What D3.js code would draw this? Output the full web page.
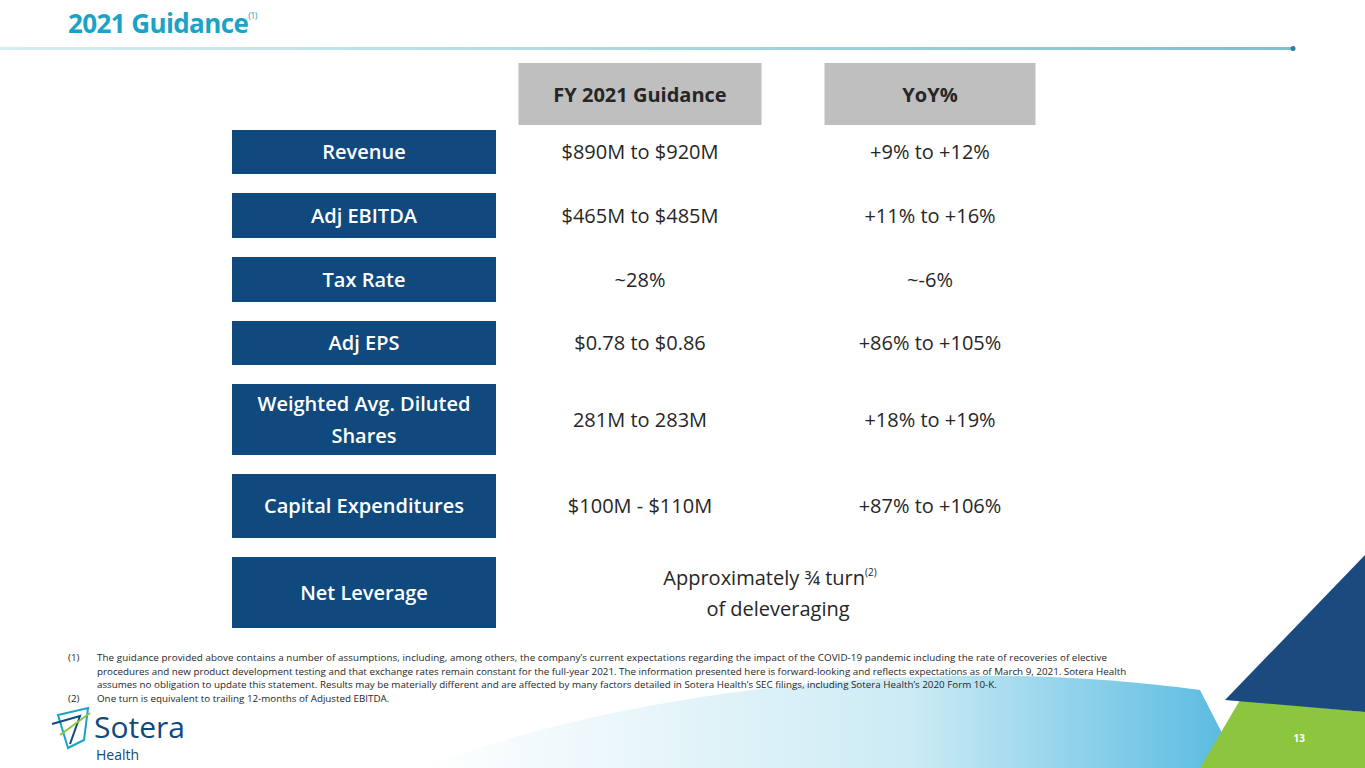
<!DOCTYPE html>
<html><head><meta charset="utf-8">
<script src="https://cdn.jsdelivr.net/npm/d3@7"></script>
<style>body{margin:0;background:#fff;font-family:"Open Sans",sans-serif}</style>
</head><body><svg id="chart" width="1365" height="768"></svg>
<script>
const metrics = ["Revenue", "Adj EBITDA", "Tax Rate", "Adj EPS", "Weighted Avg. Diluted|Shares", "Capital Expenditures", "Net Leverage"];
const guidance = ["$890M to $920M", "$465M to $485M", "~28%", "$0.78 to $0.86", "281M to 283M", "$100M - $110M", ""];
const yoy = ["+9% to +12%", "+11% to +16%", "~-6%", "+86% to +105%", "+18% to +19%", "+87% to +106%", ""];
const columns = ["FY 2021 Guidance", "YoY%"];
const footnotes = [
  "The guidance provided above contains a number of assumptions, including, among others, the company’s current expectations regarding the impact of the COVID-19 pandemic including the rate of recoveries of elective",
  "procedures and new product development testing and that exchange rates remain constant for the full-year 2021. The information presented here is forward-looking and reflects expectations as of March 9, 2021. Sotera Health",
  "assumes no obligation to update this statement. Results may be materially different and are affected by many factors detailed in Sotera Health’s SEC filings, including Sotera Health’s 2020 Form 10-K."
];

const svg = d3.select("#chart");
const defs = svg.append("defs");
const lg = defs.append("linearGradient").attr("id", "rule");
lg.append("stop").attr("offset", "0").attr("stop-color", "#d6eef3");
lg.append("stop").attr("offset", "1").attr("stop-color", "#7fbfcf");
const sw = defs.append("linearGradient").attr("id", "swoosh").attr("x1", 0).attr("x2", 1);
sw.append("stop").attr("offset", "0").attr("stop-color", "#ffffff");
sw.append("stop").attr("offset", "0.6").attr("stop-color", "#bfe6f2");
sw.append("stop").attr("offset", "1").attr("stop-color", "#2aa8d8");

// background swoosh
svg.append("path").attr("d", "M420,768 C600,700 900,650 1200,690 L1240,768 Z").attr("fill", "url(#swoosh)").attr("opacity", 0.8);
svg.append("path").attr("d", "M1200,768 L1240,700 L1365,712 L1365,768 Z").attr("fill", "#8cc63f");
svg.append("path").attr("d", "M1225,700 L1365,555 L1365,712 Z").attr("fill", "#1b4a7f");

// title
const t = svg.append("text").attr("x", 68).attr("y", 33).attr("fill", "#1ba3c6")
  .attr("font-size", 26).attr("font-weight", 700)
  .style("letter-spacing", "-0.6px").text("2021 Guidance");
t.append("tspan").attr("font-size", 9).attr("font-weight", 400).attr("dy", -14).text("(1)");
svg.append("rect").attr("x", 0).attr("y", 47).attr("width", 1292).attr("height", 3).attr("fill", "url(#rule)");
svg.append("circle").attr("cx", 1293).attr("cy", 48.5).attr("r", 2.5).attr("fill", "#2a7fa3");

// row layout
const heights = [44, 45, 45, 44, 71, 64, 71];
const gap = 19;
let acc = 130;
const rowTop = heights.map(h => { const y = acc; acc += h + gap; return y; });
const y = d3.scaleOrdinal().domain(metrics).range(rowTop);
const colX = d3.scaleOrdinal().domain(columns).range([640, 930]);
const colW = d3.scaleOrdinal().domain(columns).range([243, 211]);

// headers
const hd = svg.selectAll(".hd").data(columns).join("g");
hd.append("rect").attr("x", d => colX(d) - colW(d) / 2).attr("y", 63).attr("width", d => colW(d)).attr("height", 62).attr("fill", "#bfbfbf");
hd.append("text").attr("x", d => colX(d)).attr("y", 102).attr("text-anchor", "middle")
  .attr("font-size", 20).attr("font-weight", 700).attr("fill", "#262626").text(d => d);

// rows
const rows = svg.selectAll(".row").data(metrics).join("g");
rows.append("rect").attr("x", 232).attr("y", d => y(d)).attr("width", 264)
  .attr("height", (d, i) => heights[i]).attr("fill", "#10497e");
rows.each(function (d, i) {
  const lines = d.split("|");
  const cy = y(d) + heights[i] / 2;
  const tx = d3.select(this).append("text").attr("text-anchor", "middle").attr("fill", "#fff")
    .attr("font-size", 20).attr("font-weight", 600);
  lines.forEach((l, j) => tx.append("tspan").attr("x", 364)
    .attr("y", cy + 7 + (j - (lines.length - 1) / 2) * 32).text(l));
  const g = d3.select(this);
  g.append("text").attr("x", colX(columns[0])).attr("y", cy + 7).attr("text-anchor", "middle")
    .attr("font-size", 20).attr("fill", "#262626").text(guidance[i]);
  g.append("text").attr("x", colX(columns[1])).attr("y", cy + 7).attr("text-anchor", "middle")
    .attr("font-size", 20).attr("fill", "#262626").text(yoy[i]);
});
// net leverage spanning text
const nl = y("Net Leverage") + heights[6] / 2;
const a = svg.append("text").attr("x", 770).attr("y", nl - 8).attr("text-anchor", "middle").attr("font-size", 20).attr("fill", "#262626").text("Approximately ¾ turn");
a.append("tspan").attr("font-size", 10).attr("dy", -9).text("(2)");
svg.append("text").attr("x", 778).attr("y", nl + 23).attr("text-anchor", "middle").attr("font-size", 20).attr("fill", "#262626").text("of deleveraging");

// footnotes
const fn = svg.append("g").attr("font-size", 9.8).attr("fill", "#262626").attr("font-family", "'Liberation Sans Narrow','Open Sans'");
fn.append("text").attr("x", 68).attr("y", 661).text("(1)");
footnotes.forEach((s, i) => fn.append("text").attr("x", 97).attr("y", 661 + i * 13.5).attr("textLength", i == 0 ? 1010 : null).text(s));
fn.append("text").attr("x", 68).attr("y", 702).text("(2)");
fn.append("text").attr("x", 97).attr("y", 702).text("One turn is equivalent to trailing 12-months of Adjusted EBITDA.");

// logo
const lo = svg.append("g");
lo.append("path").attr("d", "M58,715 L88,708 L84,740 L68,748 Z").attr("fill", "none").attr("stroke", "#1ba3c6").attr("stroke-width", 2);
lo.append("path").attr("d", "M52,724 L80,716 L70,744").attr("fill", "none").attr("stroke", "#10497e").attr("stroke-width", 2);
lo.append("path").attr("d", "M60,735 L90,713").attr("stroke", "#8cc63f").attr("stroke-width", 2);
lo.append("text").attr("x", 94).attr("y", 738).attr("font-size", 30).attr("fill", "#10497e").attr("font-family", "'Liberation Sans Narrow','Open Sans'").text("Sotera");
lo.append("text").attr("x", 96).attr("y", 760).attr("font-size", 14).attr("fill", "#10497e").attr("font-family", "'Liberation Sans Narrow','Open Sans'").text("Health");
svg.append("text").attr("x", 1305).attr("y", 742).attr("text-anchor", "end").attr("font-size", 10).attr("font-weight", 700).attr("fill", "#fff").text("13");
</script></body></html>
